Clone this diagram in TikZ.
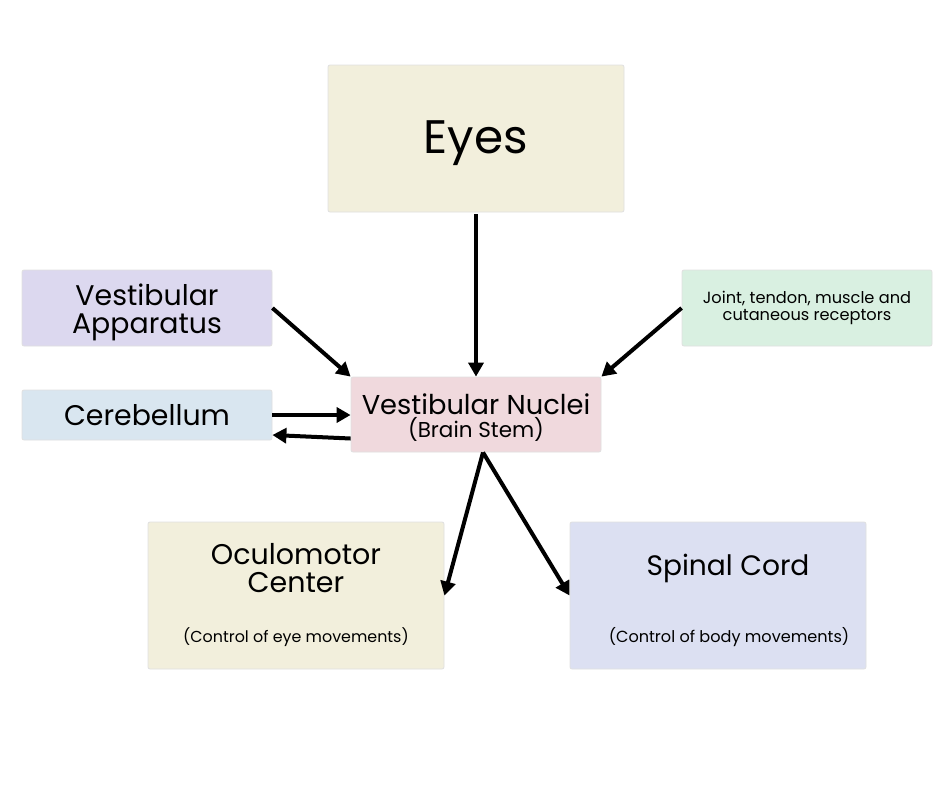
\documentclass[tikz,border=0pt]{standalone}
\usepackage{fontspec}
\setmainfont{Poppins}
\usetikzlibrary{arrows.meta,calc}
\definecolor{cream}{HTML}{F2EFDC}
\definecolor{lav}{HTML}{DCD8EF}
\definecolor{lblue}{HTML}{D9E6F0}
\definecolor{pinkc}{HTML}{F0D9DD}
\definecolor{mint}{HTML}{D9F0E1}
\definecolor{periw}{HTML}{DCE0F2}
\tikzset{
  box/.style={rectangle, inner sep=0pt, align=center, rounded corners=2pt, draw=black!12, line width=0.8pt},
  conn/.style={line width=4pt, -{Triangle[length=14pt,width=15pt]}, shorten >=0pt},
}
\begin{document}
\begin{tikzpicture}[x=1pt,y=-1pt]
\useasboundingbox[fill=white] (0,0) rectangle (940,788);
\node[box, fill=cream, minimum width=296pt, minimum height=147pt] (eyes) at (476,138.5) {};
\node[font=\fontsize{47}{52}\selectfont] (eyest) at (476,143) {Eyes};
\node[box, fill=lav, minimum width=250pt, minimum height=76pt] (app) at (147,308) {};
\node[font=\fontsize{28.4}{28}\selectfont, align=center] (appt) at (147,312) {Vestibular\\Apparatus};
\node[box, fill=lblue, minimum width=250pt, minimum height=50pt, font=\fontsize{28.4}{30}\selectfont] (cb) at (147,415) {Cerebellum};
\node[box, fill=pinkc, minimum width=250pt, minimum height=75pt] (vn) at (476,414.5) {};
\node[font=\fontsize{27.3}{28}\selectfont] (vnt) at (476,404) {Vestibular Nuclei};
\node[font=\fontsize{21.5}{22}\selectfont] (vnb) at (476,429) {(Brain Stem)};
\node[box, fill=mint, minimum width=250pt, minimum height=76pt, font=\fontsize{16.2}{17}\selectfont] (jt) at (807,308) {Joint, tendon, muscle and\\cutaneous receptors};
\node[box, fill=cream, minimum width=296pt, minimum height=147pt] (oc) at (296,595.5) {};
\node[font=\fontsize{28.5}{28}\selectfont, align=center] (oct) at (296,568) {Oculomotor\\Center};
\node[font=\fontsize{15.9}{17}\selectfont] (ocs) at (296,637) {(Control of eye movements)};
\node[box, fill=periw, minimum width=296pt, minimum height=147pt] (sc) at (718,595.5) {};
\node[font=\fontsize{28.1}{30}\selectfont] (sct) at (728,568) {Spinal Cord};
\node[font=\fontsize{16.1}{17}\selectfont] (scs) at (729,637) {(Control of body movements)};
\coordinate (vs) at ($(vn.south)+(7,0)$);
\draw[conn] (eyes.south) ++(0,2) -- (vn.north);
\draw[conn] (app.east) -- (vn.north west);
\draw[conn] (jt.west) -- (vn.north east);
\draw[conn] (cb.east) -- (vn.west |- cb.east);
\draw[conn] ($(vn.west)+(0,24)$) -- ($(cb.east)+(0,20)$);
\draw[conn] (vs) -- (oc.east);
\draw[conn] (vs) -- (sc.west);
\end{tikzpicture}
\end{document}
